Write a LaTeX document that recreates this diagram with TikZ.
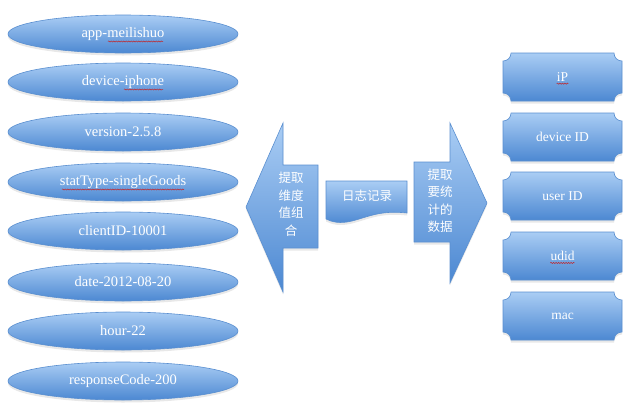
\documentclass[tikz,border=0pt]{standalone}
\usepackage{fontspec}
\setmainfont{Liberation Serif}
\newfontfamily\cjk{Noto Sans CJK SC}
\usetikzlibrary{shapes.geometric,shadows,decorations.pathmorphing}
\definecolor{blueTop}{HTML}{AACDF4}
\definecolor{blueBot}{HTML}{4C88D2}
\definecolor{blueEdge}{HTML}{5A8FD0}
\definecolor{squig}{HTML}{C0282D}
\tikzset{
  bshade/.style={top color=blueTop,bottom color=blueBot,draw=blueEdge,line width=0.6pt,
    drop shadow={opacity=0.18,shadow xshift=0pt,shadow yshift=-2.5pt}},
  ell/.style={ellipse,bshade,minimum width=230pt,minimum height=38pt,inner sep=0pt,
    text=white,font=\fontsize{14.5}{16}\selectfont},
  lbl/.style={text=white,font=\fontsize{13.5}{15}\selectfont,inner sep=0pt},
  cjklbl/.style={text=white,font=\cjk\fontsize{12.5}{17.5}\selectfont,align=center,inner sep=0pt},
  squiggle/.style={draw=squig,line width=0.5pt,decorate,
    decoration={snake,amplitude=0.6pt,segment length=2.5pt}},
}
\begin{document}
\begin{tikzpicture}[x=1pt,y=-1pt]
\useasboundingbox (0,0) rectangle (629,410);
% ellipses
\node[ell] (e1) at (123,34) {app-meilishuo};
\node[ell] (e2) at (123,82) {device-iphone};
\node[ell] (e3) at (123,132) {version-2.5.8};
\node[ell] (e4) at (123,182) {statType-singleGoods};
\node[ell] (e5) at (123,231) {clientID-10001};
\node[ell] (e6) at (123,282) {date-2012-08-20};
\node[ell] (e7) at (123,331) {hour-22};
\node[ell] (e8) at (123,381) {responseCode-200};
% spell-check marks
\coordinate (s1a) at (108,41.5); \coordinate (s1b) at (163,41.5);
\coordinate (s2a) at (124,89.5); \coordinate (s2b) at (163,89.5);
\coordinate (s4a) at (62,189.5); \coordinate (s4b) at (184,189.5);
\draw[squiggle] (s1a) -- (s1b);
\draw[squiggle] (s2a) -- (s2b);
\draw[squiggle] (s4a) -- (s4b);
% left arrow
\shade[bshade] (246,207) -- (283,123) -- (283,165) -- (318,165) -- (318,248) -- (283,248) -- (283,292) -- cycle;
\node[cjklbl] (la) at (291,204) {提取\\维度\\值组\\合};
% document shape
\shade[bshade] (326,181) -- (407,181) -- (407,213)
  .. controls (380,210) and (368,217) .. (352,221)
  .. controls (340,224) and (332,222) .. (326,219) -- cycle;
\node[cjklbl] (doc) at (367,196) {日志记录};
% right arrow
\shade[bshade] (414,162) -- (450,162) -- (450,123) -- (487,203) -- (450,283) -- (450,242) -- (414,242) -- cycle;
\node[cjklbl] (ra) at (440,201) {提取\\要统\\计的\\数据};
% plaque boxes
\foreach \yt/\txt/\nm in {53/iP/b1,113/device ID/b2,172/user ID/b3,232/udid/b4,292/mac/b5}{
  \pgfmathsetmacro{\yb}{\yt+48}
  \shade[bshade] (503,\yt+8) .. controls (507.5,\yt+8) and (511,\yt+4.5) .. (511,\yt)
    -- (614,\yt) .. controls (614,\yt+4.5) and (617.5,\yt+8) .. (622,\yt+8)
    -- (622,\yb-8) .. controls (617.5,\yb-8) and (614,\yb-4.5) .. (614,\yb)
    -- (511,\yb) .. controls (511,\yb-4.5) and (507.5,\yb-8) .. (503,\yb-8) -- cycle;
  \node[lbl] (\nm) at (562.5,\yt+24) {\txt};
}
\draw[squiggle] ([yshift=-2pt]b1.south west) -- ([yshift=-2pt]b1.south east);
\draw[squiggle] ([yshift=-2pt]b4.south west) -- ([yshift=-2pt]b4.south east);
\end{tikzpicture}
\end{document}
